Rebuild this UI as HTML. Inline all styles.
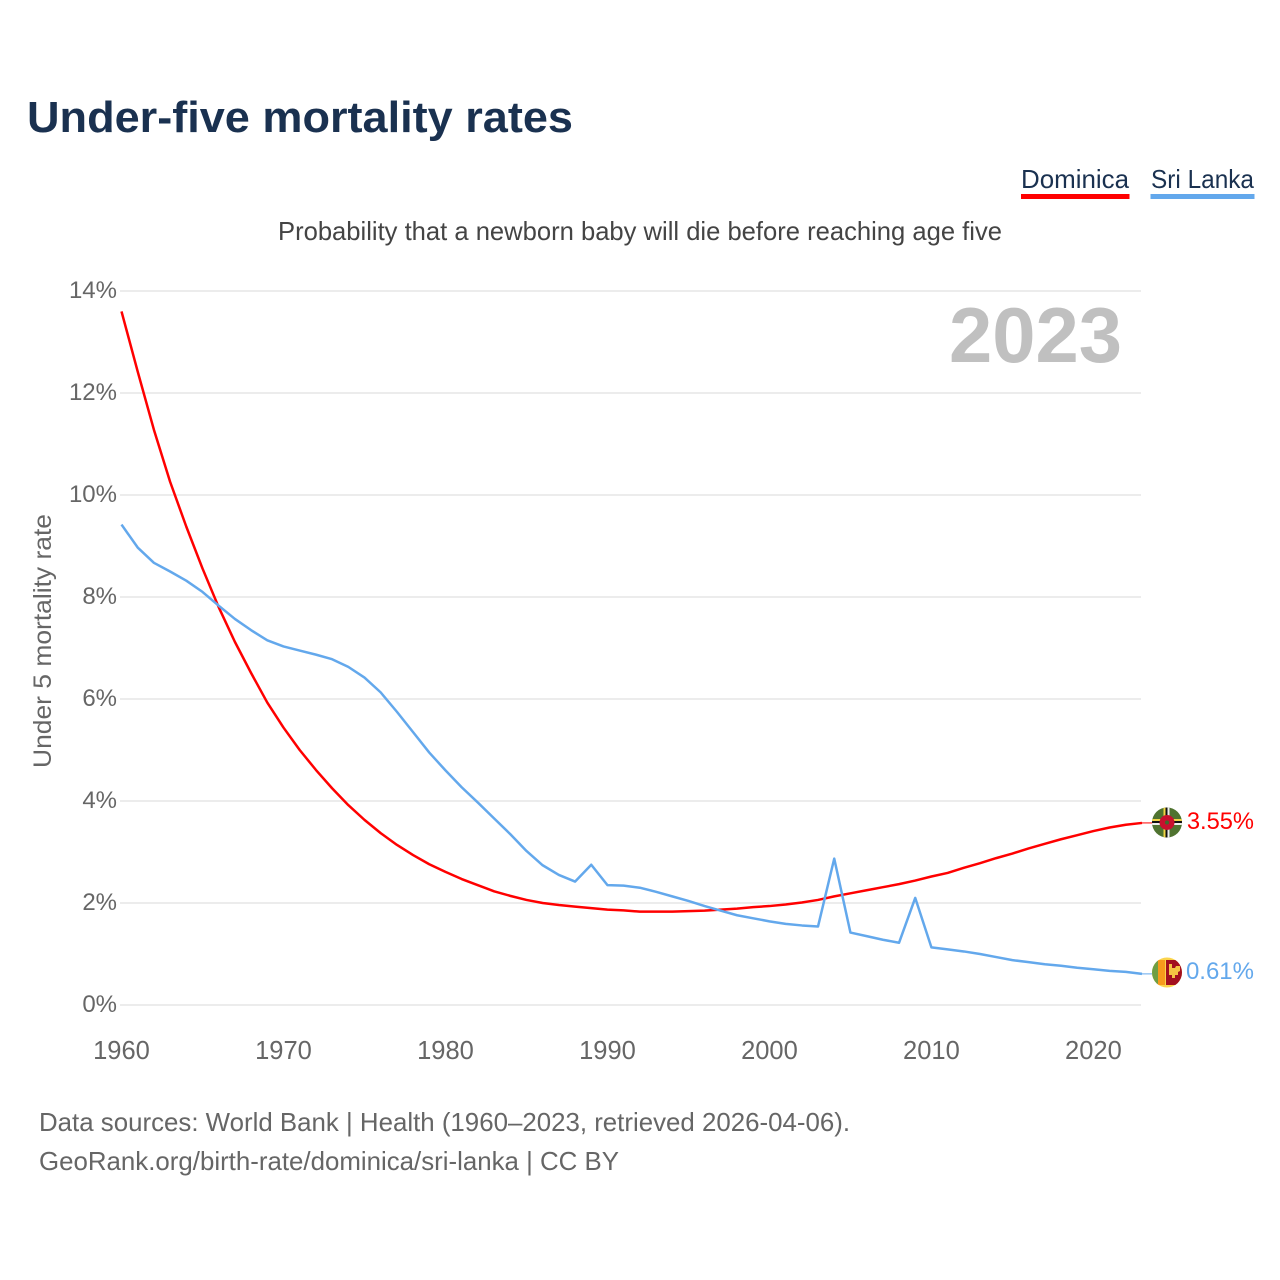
<!DOCTYPE html>
<html lang="en">
<head>
<meta charset="utf-8">
<title>Under-five mortality rates</title>
<style>
html,body{margin:0;padding:0;background:#fff;}
svg{display:block;}
text{font-family:"Liberation Sans",sans-serif;}
</style>
</head>
<body>
<svg id="chart" xmlns="http://www.w3.org/2000/svg" width="1280" height="1280" viewBox="0 0 1280 1280">
  <defs>
    <clipPath id="clip-dm"><circle cx="1167" cy="822.5" r="15"/></clipPath>
    <clipPath id="clip-lk"><circle cx="1167" cy="972.5" r="15"/></clipPath>
  </defs>
  <text x="27" y="132" font-size="44" font-weight="700" fill="#1a3150" textLength="546" lengthAdjust="spacingAndGlyphs">Under-five mortality rates</text>
  <g>
    <g>
      <text x="1021" y="188" font-size="26" fill="#1a3150" textLength="108" lengthAdjust="spacingAndGlyphs">Dominica</text>
      <rect x="1021" y="194" width="108.500" height="5" fill="#ff0000"/>
    </g>
    <g>
      <text x="1151" y="188" font-size="26" fill="#1a3150" textLength="103" lengthAdjust="spacingAndGlyphs">Sri Lanka</text>
      <rect x="1150.500" y="194" width="104" height="5" fill="#63a8ec"/>
    </g>
  </g>
  <text x="278" y="240" font-size="26" fill="#444" textLength="724" lengthAdjust="spacingAndGlyphs">Probability that a newborn baby will die before reaching age five</text>
  <g id="grid"></g>
  <g id="y-ticks"></g>
  <g id="x-ticks"></g>
  <text transform="translate(51,768) rotate(-90)" x="0" y="0" font-size="25" fill="#666" textLength="254" lengthAdjust="spacingAndGlyphs">Under 5 mortality rate</text>
  <text x="949" y="362" font-size="78" font-weight="700" fill="#c0c0c0" textLength="173" lengthAdjust="spacingAndGlyphs">2023</text>
  <g id="series"></g>

  <g clip-path="url(#clip-dm)">
    <rect x="1152" y="807" width="30" height="31" fill="#4f7330"/>
    <rect x="1163.500" y="807" width="2" height="31" fill="#f2d544"/>
    <rect x="1165.500" y="807" width="2" height="31" fill="#111"/>
    <rect x="1167.500" y="807" width="2" height="31" fill="#eee"/>
    <rect x="1152" y="819" width="30" height="2" fill="#f2d544"/>
    <rect x="1152" y="821" width="30" height="2" fill="#111"/>
    <rect x="1152" y="823" width="30" height="2" fill="#eee"/>
    <circle cx="1167" cy="822.500" r="7.500" fill="#c8102e"/>
    <circle cx="1167" cy="822.500" r="2" fill="#3d6b2c"/>
  </g>
  <g clip-path="url(#clip-lk)">
    <rect x="1152" y="957" width="30" height="31" fill="#fbd44c"/>
    <rect x="1152" y="957" width="6" height="31" fill="#6f9e43"/>
    <rect x="1158" y="960" width="7" height="25" fill="#f79a1c"/>
    <rect x="1166" y="960" width="16" height="25" fill="#a3101f"/>
    <path d="M1169 964h3v4h3l1-2h4v5l-2 1v3h-3v3h-3v-3h-3z" fill="#f5c543"/>
  </g>
  <text id="value-dominica" x="1254" y="829" font-size="23.700" fill="#ff0000" text-anchor="end"></text>
  <text id="value-sri-lanka" x="1254" y="979" font-size="24" fill="#63a8ec" text-anchor="end"></text>

  <text x="39" y="1131" font-size="26" fill="#666" textLength="811" lengthAdjust="spacingAndGlyphs">Data sources: World Bank | Health (1960–2023, retrieved 2026-04-06).</text>
  <text x="39" y="1170" font-size="26" fill="#666" textLength="580" lengthAdjust="spacingAndGlyphs">GeoRank.org/birth-rate/dominica/sri-lanka | CC BY</text>
</svg>
<script>
const years = [1960,1961,1962,1963,1964,1965,1966,1967,1968,1969,1970,1971,1972,1973,1974,1975,1976,1977,1978,1979,1980,1981,1982,1983,1984,1985,1986,1987,1988,1989,1990,1991,1992,1993,1994,1995,1996,1997,1998,1999,2000,2001,2002,2003,2004,2005,2006,2007,2008,2009,2010,2011,2012,2013,2014,2015,2016,2017,2018,2019,2020,2021,2022,2023];
const dominica = [13.6,12.42,11.28,10.26,9.38,8.56,7.8,7.12,6.51,5.93,5.44,5.0,4.61,4.25,3.92,3.63,3.37,3.14,2.94,2.76,2.61,2.47,2.35,2.23,2.14,2.06,2.0,1.96,1.93,1.9,1.87,1.855,1.83,1.83,1.83,1.84,1.85,1.87,1.89,1.92,1.94,1.97,2.01,2.06,2.13,2.19,2.25,2.31,2.37,2.44,2.52,2.59,2.69,2.78,2.88,2.97,3.07,3.16,3.25,3.33,3.41,3.48,3.535,3.57];
const sriLanka = [9.42,8.97,8.67,8.5,8.32,8.1,7.83,7.57,7.35,7.15,7.03,6.95,6.87,6.78,6.63,6.42,6.13,5.75,5.35,4.95,4.6,4.27,3.97,3.66,3.35,3.02,2.74,2.55,2.42,2.75,2.35,2.34,2.3,2.22,2.13,2.04,1.94,1.85,1.76,1.7,1.64,1.59,1.56,1.54,2.87,1.42,1.35,1.28,1.22,2.1,1.13,1.09,1.05,1.0,0.94,0.88,0.84,0.8,0.77,0.73,0.7,0.67,0.65,0.61];
const yTickValues = [0,2,4,6,8,10,12,14];
const yTickLabels = ["0%","2%","4%","6%","8%","10%","12%","14%"];
const xTickValues = [1960,1970,1980,1990,2000,2010,2020];
const xTickLabels = ["1960","1970","1980","1990","2000","2010","2020"];
const endLabelDominica = "3.55%";
const endLabelSriLanka = "0.61%";

const SVG_NS = "http://www.w3.org/2000/svg";
function xScale(year){ return 121.5 + (year - 1960) * (1020.5 / 63); }
function yScale(value){ return 1005 - value * 51; }

const gridGroup = document.getElementById("grid");
const yTickGroup = document.getElementById("y-ticks");
yTickValues.forEach(function(v, i){
  const line = document.createElementNS(SVG_NS, "line");
  
  
  line.setAttribute("x1", 120);
  line.setAttribute("x2", 1141);
  line.setAttribute("y1", yScale(v));
  line.setAttribute("y2", yScale(v));
  line.setAttribute("stroke", "#ececec");
  line.setAttribute("stroke-width", 2);
  gridGroup.appendChild(line);
  const label = document.createElementNS(SVG_NS, "text");
  
  
  label.setAttribute("x", 117);
  label.setAttribute("y", yScale(v) + 7);
  label.setAttribute("font-size", 24);
  label.setAttribute("fill", "#666");
  label.setAttribute("text-anchor", "end");
  label.textContent = yTickLabels[i];
  yTickGroup.appendChild(label);
});

const xTickGroup = document.getElementById("x-ticks");
xTickValues.forEach(function(v, i){
  const label = document.createElementNS(SVG_NS, "text");
  
  
  label.setAttribute("x", xScale(v));
  label.setAttribute("y", 1059);
  label.setAttribute("font-size", 25.5);
  label.setAttribute("fill", "#666");
  label.setAttribute("text-anchor", "middle");
  label.textContent = xTickLabels[i];
  xTickGroup.appendChild(label);
});

function linePoints(values){
  return values.map(function(v, i){
    return xScale(years[i]).toFixed(2) + "," + yScale(v).toFixed(2);
  }).join(" ");
}

const seriesGroup = document.getElementById("series");

const dominicaLine = document.createElementNS(SVG_NS, "polyline");


dominicaLine.setAttribute("points", linePoints(dominica));
dominicaLine.setAttribute("fill", "none");
dominicaLine.setAttribute("stroke", "#ff0000");
dominicaLine.setAttribute("stroke-width", 2.5);
dominicaLine.setAttribute("stroke-linejoin", "round");
seriesGroup.appendChild(dominicaLine);

const dominicaLeader = document.createElementNS(SVG_NS, "line");


dominicaLeader.setAttribute("x1", xScale(2023));
dominicaLeader.setAttribute("x2", 1152);
dominicaLeader.setAttribute("y1", yScale(dominica[dominica.length - 1]));
dominicaLeader.setAttribute("y2", yScale(dominica[dominica.length - 1]));
dominicaLeader.setAttribute("stroke", "#ff0000");
dominicaLeader.setAttribute("stroke-width", 1);
seriesGroup.appendChild(dominicaLeader);

const sriLankaLine = document.createElementNS(SVG_NS, "polyline");


sriLankaLine.setAttribute("points", linePoints(sriLanka));
sriLankaLine.setAttribute("fill", "none");
sriLankaLine.setAttribute("stroke", "#63a8ec");
sriLankaLine.setAttribute("stroke-width", 2.5);
sriLankaLine.setAttribute("stroke-linejoin", "round");
seriesGroup.appendChild(sriLankaLine);

const sriLankaLeader = document.createElementNS(SVG_NS, "line");


sriLankaLeader.setAttribute("x1", xScale(2023));
sriLankaLeader.setAttribute("x2", 1152);
sriLankaLeader.setAttribute("y1", yScale(sriLanka[sriLanka.length - 1]));
sriLankaLeader.setAttribute("y2", yScale(sriLanka[sriLanka.length - 1]));
sriLankaLeader.setAttribute("stroke", "#63a8ec");
sriLankaLeader.setAttribute("stroke-width", 1);
seriesGroup.appendChild(sriLankaLeader);

document.getElementById("value-dominica").textContent = endLabelDominica;
document.getElementById("value-sri-lanka").textContent = endLabelSriLanka;
</script>
</body>
</html>
